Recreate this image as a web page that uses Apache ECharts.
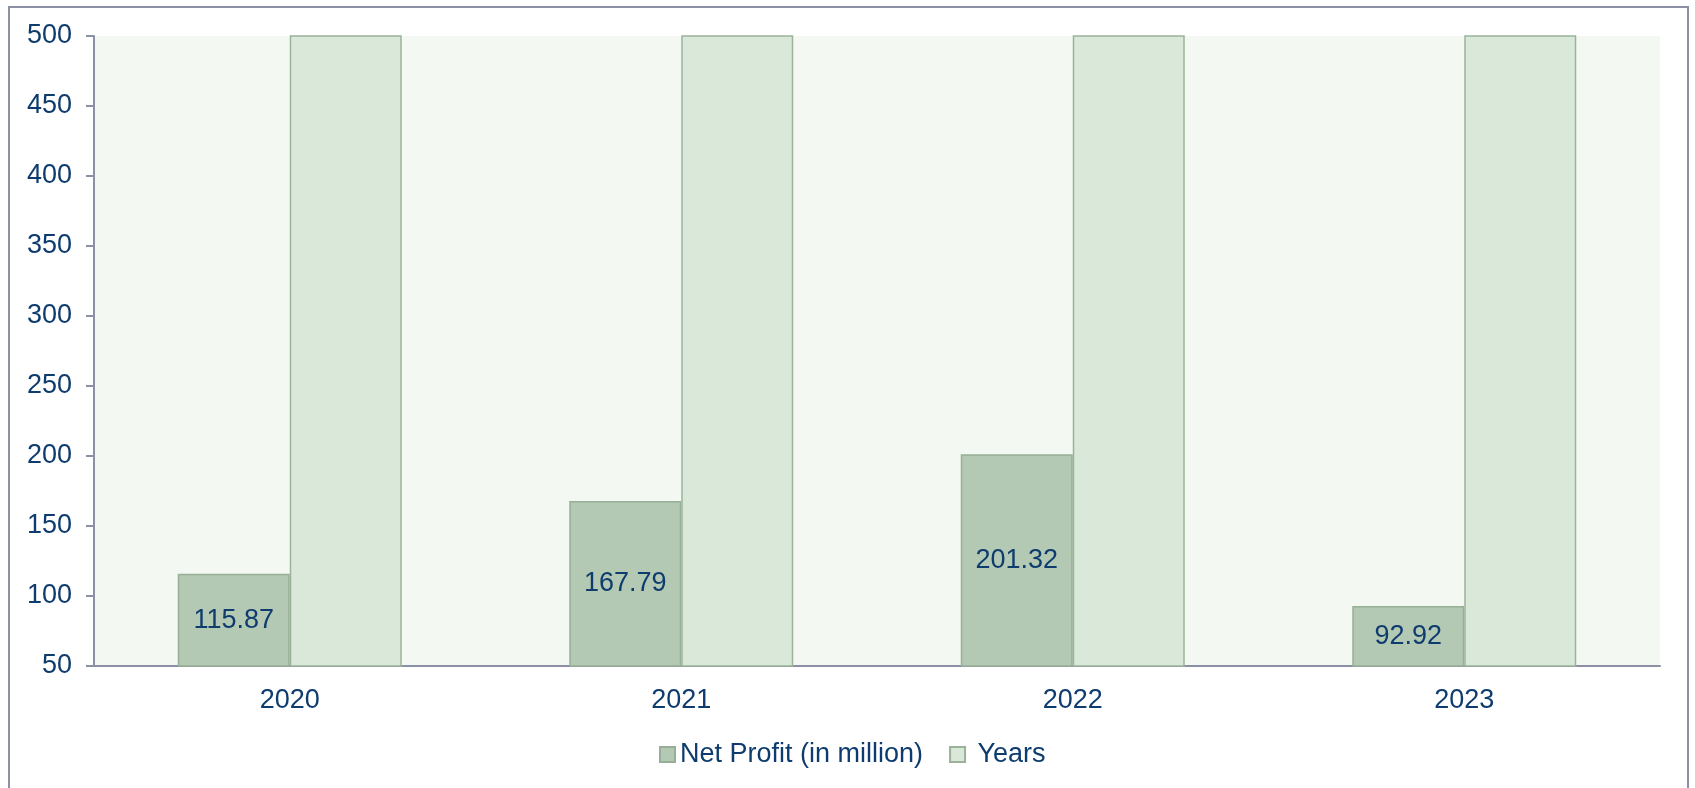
<!DOCTYPE html>
<html>
<head>
<meta charset="utf-8">
<script src="https://cdn.jsdelivr.net/npm/echarts@6/dist/echarts.min.js"></script>
<style>
	html, body { margin: 0; padding: 0; background: #fff; }
	#chart { width: 1695px; height: 788px; }
</style>
</head>
<body>
<div id="chart"></div>
<script>
const years = ['2020', '2021', '2022', '2023'];
const netProfit = [115.87, 167.79, 201.32, 92.92];
const yearValues = [2020, 2021, 2022, 2023];   // plotted as a series, runs off the top

const textColor = '#0E3C6E';
const axisColor = '#8C90A4';
const font = 'Liberation Sans, Arial, sans-serif';

const myChart = echarts.init(document.getElementById('chart'));
const option = {
	animation: false,
	textStyle: { fontFamily: font },
	graphic: [{
		type: 'rect',
		shape: { x: 9, y: 7, width: 1679, height: 800 },
		style: { fill: 'none', stroke: axisColor, lineWidth: 2 },
		silent: true
	}],
	grid: {
		left: 94,
		top: 36,
		right: 35,
		bottom: 122,
		show: true,
		backgroundColor: '#F3F8F3',
		borderWidth: 0
	},
	legend: {
		left: 659,
		top: 741,
		padding: 0,
		itemWidth: 15,
		itemHeight: 15,
		itemGap: 26,
		icon: 'rect',
		formatter: (name) => name === 'Years' ? ' Years' : name,
		textStyle: { color: textColor, fontSize: 27, fontFamily: font },
		data: ['Net Profit (in million)', 'Years']
	},
	xAxis: {
		type: 'category',
		data: years,
		axisLine: { lineStyle: { color: axisColor, width: 2 } },
		axisTick: { length: 8, lineStyle: { color: axisColor, width: 2 } },
		axisLabel: { color: textColor, fontSize: 27, margin: 21 }
	},
	yAxis: {
		type: 'value',
		min: 50,
		max: 500,
		interval: 50,
		axisLine: { show: true, lineStyle: { color: axisColor, width: 2 } },
		axisTick: { show: true, length: 8, lineStyle: { color: axisColor, width: 2 } },
		axisLabel: { color: textColor, fontSize: 27, margin: 22 },
		splitLine: { show: false }
	},
	series: [{
		name: 'Net Profit (in million)',
		type: 'bar',
		data: netProfit,
		barWidth: 112,
		barGap: '0%',
		clip: true,
		itemStyle: { color: '#B3C9B3', borderColor: '#97AF97', borderWidth: 1.5 },
		label: {
			show: true,
			position: 'inside',
			color: textColor,
			fontSize: 27,
			fontFamily: font
		}
	}, {
		name: 'Years',
		type: 'bar',
		data: yearValues,
		barWidth: 112,
		barGap: '0%',
		clip: true,
		itemStyle: { color: '#D9E8D8', borderColor: '#9AB29A', borderWidth: 1.5 }
	}]
};

myChart.setOption(option);
</script>
</body>
</html>
